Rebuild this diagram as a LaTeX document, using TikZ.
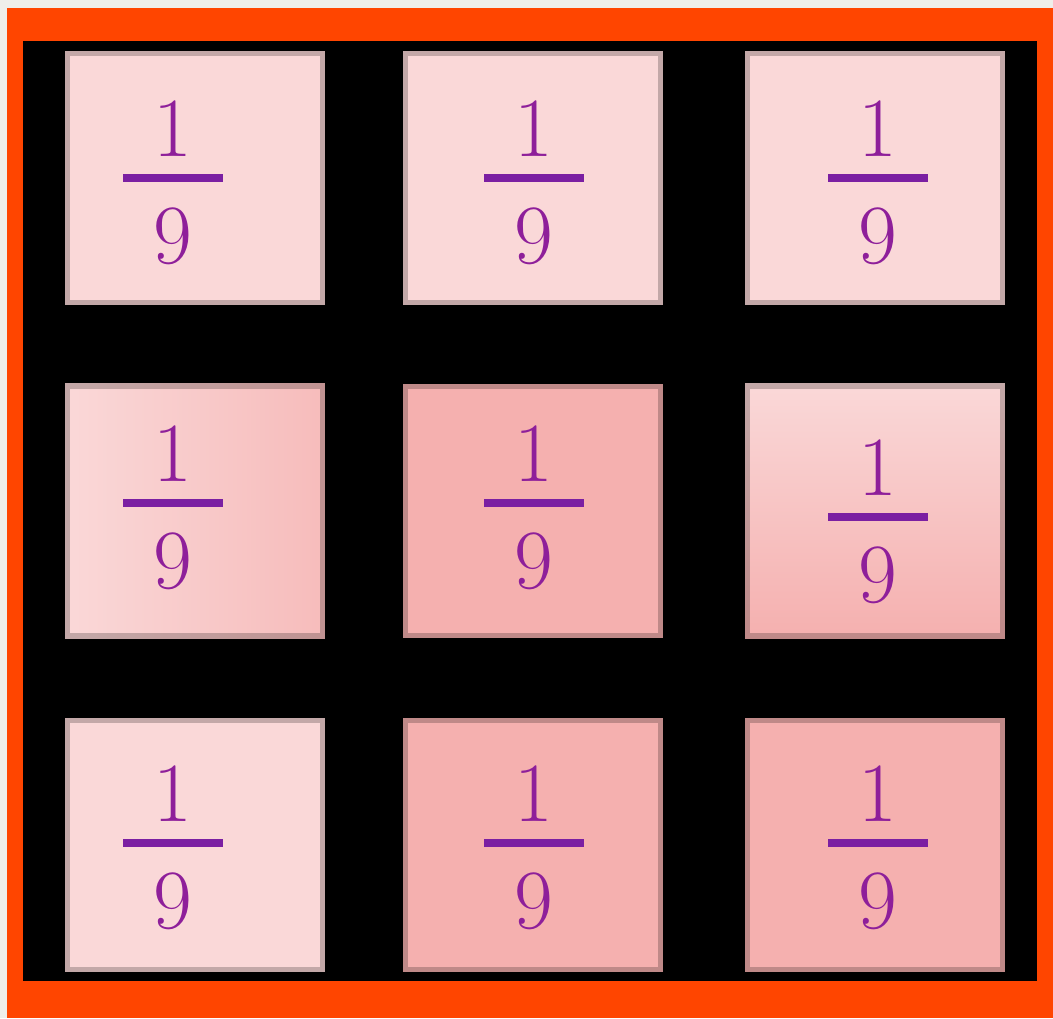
\documentclass[tikz,border=0pt]{standalone}
\usepackage{tikz}
\usepackage{xcolor}
\usetikzlibrary{positioning}

\definecolor{pagebg}{HTML}{EFEEEA}
\definecolor{frameorange}{HTML}{FF4500}
\definecolor{cellpale}{HTML}{FAD8D8}
\definecolor{cellrose}{HTML}{F5B0AF}
\definecolor{digitpurple}{HTML}{8E1F9A}
\definecolor{barpurple}{HTML}{7B1FA2}

\begin{document}
\begin{tikzpicture}[
  x=0.02cm,y=-0.02cm,
  cell/.style={rectangle,minimum width=5.2cm,minimum height=5.1cm,inner sep=0pt,
    draw=black,draw opacity=0.22,line width=0.2cm},
  fracbar/.style={rectangle,fill=barpurple,minimum width=2cm,minimum height=0.17cm,inner sep=0pt},
  digit/.style={inner sep=0pt,text=digitpurple,font=\fontsize{48}{56}\selectfont}
]
% page, frame and grid lines
\useasboundingbox (0,0) rectangle (1053,1018);
\fill[pagebg] (0,0) rectangle (1053,1018);
\fill[frameorange] (7,8) rectangle (1053,1018);
\fill[black] (23,41) rectangle (1037,981);

% kernel cells
\node[cell,fill=cellpale] (c11) at (195,178) {};
\node[cell,fill=cellpale] (c12) at (533,178) {};
\node[cell,fill=cellpale] (c13) at (875,178) {};
\node[cell,left color=cellpale,right color=cellrose!70!cellpale] (c21) at (195,511) {};
\node[cell,fill=cellrose] (c22) at (533,511) {};
\node[cell,top color=cellpale,bottom color=cellrose] (c23) at (875,511) {};
\node[cell,fill=cellpale] (c31) at (195,845) {};
\node[cell,fill=cellrose] (c32) at (533,845) {};
\node[cell,fill=cellrose] (c33) at (875,845) {};

% weights 1/9
\foreach \name/\px/\py in {f11/173/178,f12/534/178,f13/878/178,
                           f21/173/503,f22/534/503,f23/878/517,
                           f31/173/843,f32/534/843,f33/878/843}{
  \node[fracbar] (\name) at (\px,\py) {};
  \node[digit,above=0.34cm of \name] (\name-num) {1};
  \node[digit,below=0.5cm of \name] (\name-den) {9};
}
\end{tikzpicture}
\end{document}
